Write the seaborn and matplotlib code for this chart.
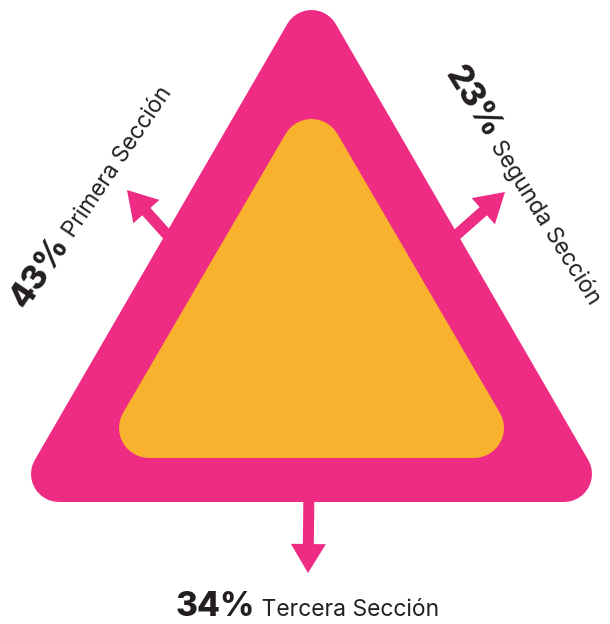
import matplotlib
matplotlib.use("Agg")
import matplotlib.pyplot as plt
import seaborn as sns
from matplotlib.patches import Polygon, FancyArrow

# ---- data ----
sections = ["Primera Sección", "Segunda Sección", "Tercera Sección"]
percents = [43, 23, 34]

PINK = "#EE2C84"
ORANGE = "#F9B22E"
DARK = "#231F20"

sns.set_theme(style="white")
plt.rcParams["font.family"] = ["Inter", "DejaVu Sans"]

W, H = 610, 624
DPI = 100
fig = plt.figure(figsize=(W / DPI, H / DPI), dpi=DPI)
ax = fig.add_axes([0, 0, 1, 1])
ax.set_xlim(0, W)
ax.set_ylim(H, 0)
ax.axis("off")

PX2PT = 72 / DPI


def rounded_triangle(verts, r, color):
    ax.add_patch(Polygon(verts, closed=True, fc=color, ec=color,
                         lw=2 * r * PX2PT, joinstyle="round", zorder=2))


# outer pink and inner orange triangles
rounded_triangle([(311.5, 38), (59, 474), (564, 474)], 28, PINK)
rounded_triangle([(311.5, 149), (149, 428), (474, 428)], 30, ORANGE)

# arrows
arrows = [((170, 238), (127, 190)),
          ((453, 238), (505, 192)),
          ((309, 488), (308, 573))]
for (x0, y0), (x1, y1) in arrows:
    ax.add_patch(FancyArrow(x0, y0, x1 - x0, y1 - y0, width=11,
                            head_width=35, head_length=29,
                            length_includes_head=True, color=PINK,
                            lw=0, zorder=1))

# labels: junction point and rotation
anchors = [(70, 244), (486, 140), (255, 616)]
rotations = [56, -58, 0]
for (x, y), rot, pct, name in zip(anchors, rotations, percents, sections):
    ax.text(x, y, f"{pct}%", fontsize=24, fontweight="heavy", color=DARK,
            rotation=rot, rotation_mode="anchor", ha="right", va="baseline")
    ax.text(x, y, " " + name, fontsize=16.5, color=DARK,
            rotation=rot, rotation_mode="anchor", ha="left", va="baseline")

fig.savefig("out.png", dpi=DPI)
